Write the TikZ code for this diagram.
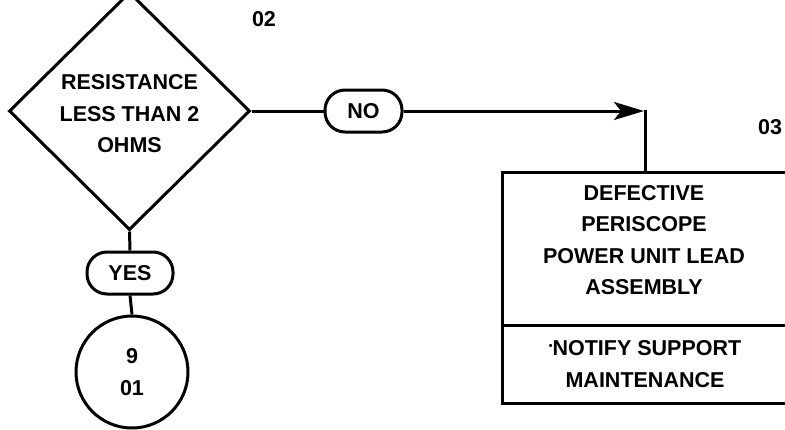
\documentclass[tikz,border=0pt]{standalone}
\usepackage{fontspec}
\setmainfont{Liberation Sans}
\usetikzlibrary{shapes.geometric,arrows.meta}
\begin{document}
\begin{tikzpicture}[x=1pt,y=-1pt,
  line width=3pt,
  every node/.style={font=\bfseries\fontsize{21.5}{31.5}\selectfont, align=center},
  dia/.style={draw, diamond, minimum width=241pt, minimum height=238pt, inner sep=0pt},
  pill/.style={draw, rounded corners=20pt, minimum height=42pt, inner sep=0pt},
  boxpart/.style={draw, rectangle, minimum width=286pt, inner sep=0pt},
  circ/.style={draw, circle, minimum size=112pt, inner sep=0pt},
  arr/.style={-{Stealth[length=30pt 0 0,width=18pt 0 0,inset=7pt]}}]
\useasboundingbox (0,0) rectangle (785,429);
\clip (0,0) rectangle (785,429);

\node[dia] (dia) at (129.5,111) {};
\node (diatext) at (129.5,114) {RESISTANCE\\LESS THAN 2\\OHMS};
\node (lab02) at (264,19) {02};
\node (lab03) at (770,127) {03};

\node[pill, minimum width=77pt] (no) at (363.5,111) {NO};
\node[pill, minimum width=86pt] (yes) at (130,273) {YES};
\node[circ] (circ) at (132,372) {9\\01};

\node[boxpart, minimum height=153pt] (upper) at (645,248.5) {};
\node (deftext) at (644,240) {DEFECTIVE\\PERISCOPE\\POWER UNIT LEAD\\ASSEMBLY};
\node[boxpart, minimum height=78pt] (lower) at (645,364) {\raisebox{0.55ex}{\scalebox{0.5}{•}}NOTIFY SUPPORT\\MAINTENANCE};

\coordinate (tip) at (644,111);
\coordinate (corner) at (645,109.5);

\draw (dia.east) -- (no.west);
\draw[arr] (no.east) -- (tip);
\draw (corner) -- (upper.north);
\draw (dia.south) -- (yes.north);
\draw (yes.south) -- (circ.north);
\end{tikzpicture}
\end{document}
